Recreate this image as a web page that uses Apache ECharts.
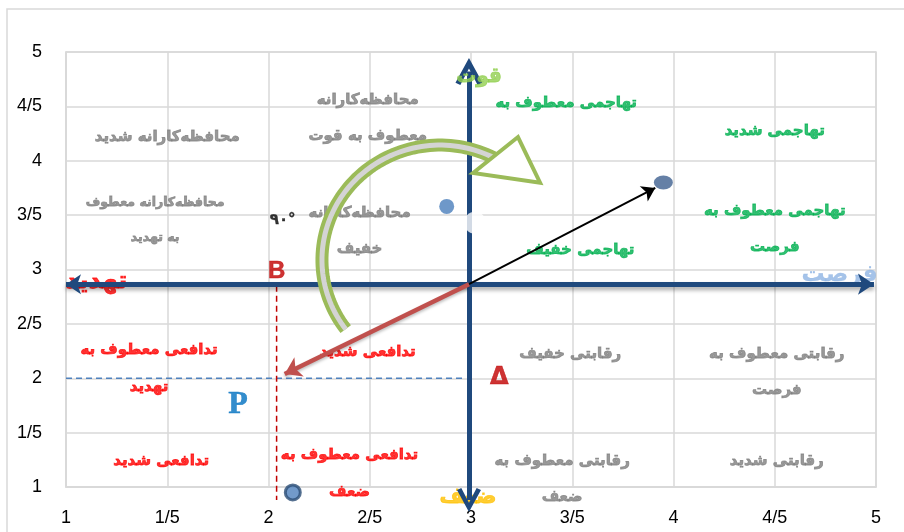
<!DOCTYPE html>
<html>
<head>
<meta charset="utf-8">
<script src="https://cdn.jsdelivr.net/npm/echarts@6/dist/echarts.min.js"></script>
<style>
  html, body { margin: 0; padding: 0; background: #fff; }
  #chart { width: 904px; height: 532px; }
</style>
</head>
<body>
<div id="chart"></div>
<script>
// tick labels (Persian style decimals)
var xTicks = ['1', '1/5', '2', '2/5', '3', '3/5', '4', '4/5', '5'];
var yTicks = ['1', '1/5', '2', '2/5', '3', '3/5', '4', '4/5', '5'];

// quadrant texts [x, y, text]
var grayText = [
    [1.50, 4.22, 'محافظه‌کارانه شدید'],
    [2.49, 4.39, 'محافظه‌کارانه\nمعطوف به قوت'],
    [2.45, 3.35, 'محافظه‌کارانه\nخفیف'],
    [3.49, 2.22, 'رقابتی خفیف'],
    [4.51, 2.06, 'رقابتی معطوف به\nفرصت'],
    [4.51, 1.24, 'رقابتی شدید'],
    [3.45, 1.07, 'رقابتی معطوف به\nضعف']
];
var graySmallText = [
    [1.44, 3.455, 'محافظه‌کارانه معطوف\nبه تهدید']
];
var greenText = [
    [3.47, 4.53, 'تهاجمی معطوف به'],
    [4.50, 4.27, 'تهاجمی شدید'],
    [4.50, 3.37, 'تهاجمی معطوف به\nفرصت'],
    [3.54, 3.18, 'تهاجمی خفیف']
];
var redText = [
    [1.41, 2.09, 'تدافعی معطوف به\nتهدید'],
    [1.47, 1.24, 'تدافعی شدید'],
    [2.49, 2.24, 'تدافعی شدید'],
    [2.40, 1.12, 'تدافعی معطوف به\nضعف']
];

// axis words
var strengthWord = [3.04, 4.77, 'قوت'];
var weaknessWord = [2.985, 0.90, 'ضعف'];
var threatWord = [1.15, 2.89, 'تهدید'];
var opportunityWord = [4.82, 2.95, 'فرصت'];

// letters / marks
var letterB = [2.04, 2.98, 'B'];
var letterDelta = [3.14, 2.00, 'Δ'];
var letterP = [1.85, 1.76, 'P'];
var angleText = [2.07, 3.455, '۹۰°'];

// main axes (arrows)
var hAxisLine = [[1.00, 2.865], [4.99, 2.865]];
var vAxisLine = [[2.99, 4.82], [2.99, 0.88]];

// vectors
var blackArrow = [[2.99, 2.865], [3.91, 3.75]];
var redArrow = [[2.99, 2.865], [2.08, 2.04]];
var blueDash = [[1.00, 2.00], [2.96, 2.00]];
var redDash = [[2.04, 2.85], [2.04, 0.88]];

// points
var bigDot = [3.95, 3.80];
var blueDot = [2.88, 3.58];
var ringDot = [2.12, 0.95];
var whiteDot = [3.02, 3.43];

// green curved arrow: elliptic arc (centre, radii in axis units, angles in degrees) + head
var arcCenter = [2.847, 3.087];
var arcRadius = [0.583, 1.057];
var arcAngles = [143, 297];
var arcHead = [[3.01, 3.887], [3.232, 4.218], [3.341, 3.798]];

var persianFont = 'DejaVu Sans';

function textSeries(list, color, size, extra, z) {
    var s = {
        type: 'scatter',
        symbolSize: 0,
        z: z || 2,
        clip: false,
        silent: true,
        data: list,
        label: {
            show: true,
            position: 'inside',
            formatter: function (p) { return p.data[2]; },
            color: color,
            fontFamily: persianFont,
            fontWeight: 'bold',
            fontSize: size,
            lineHeight: Math.round(size * 2.4),
            align: 'center',
            verticalAlign: 'middle',
            textBorderColor: color,
            textBorderWidth: 0.8
        }
    };
    if (extra) {
        for (var k in extra) s.label[k] = extra[k];
    }
    return s;
}

function arcPixels(api) {
    var c = api.coord(arcCenter);
    var e = api.coord([arcCenter[0] + arcRadius[0], arcCenter[1] + arcRadius[1]]);
    var rx = Math.abs(e[0] - c[0]);
    var ry = Math.abs(e[1] - c[1]);
    var pts = [];
    for (var a = arcAngles[0]; a <= arcAngles[1]; a += 2) {
        var t = a * Math.PI / 180;
        pts.push([c[0] + rx * Math.cos(t), c[1] + ry * Math.sin(t)]);
    }
    return pts;
}

var chevron = 'path://M0,10 L5,0 L10,10 L8.2,10.9 L5,4.2 L1.8,10.9 Z';

var chart = echarts.init(document.getElementById('chart'));
var option = {
    animation: false,
    backgroundColor: '#fff',
    graphic: [{
        type: 'rect',
        shape: { x: 7, y: 9, width: 1000, height: 1000 },
        style: { fill: 'none', stroke: '#d9d9d9', lineWidth: 1.5 },
        silent: true,
        z: -1
    }],
    grid: {
        left: 66,
        right: 28,
        top: 52,
        bottom: 45,
        show: true,
        borderColor: '#d9d9d9',
        borderWidth: 1.5
    },
    xAxis: {
        type: 'value',
        min: 1,
        max: 5,
        interval: 0.5,
        axisLine: { show: true, lineStyle: { color: '#d9d9d9', width: 1.5 } },
        axisTick: { show: false },
        splitLine: { show: true, lineStyle: { color: '#d9d9d9', width: 1.5 } },
        axisLabel: {
            margin: 22,
            color: '#000',
            fontSize: 18,
            fontFamily: 'Liberation Sans',
            formatter: function (v) { return xTicks[Math.round((v - 1) / 0.5)]; }
        }
    },
    yAxis: {
        type: 'value',
        min: 1,
        max: 5,
        interval: 0.5,
        axisLine: { show: true, lineStyle: { color: '#d9d9d9', width: 1.5 } },
        axisTick: { show: false },
        splitLine: { show: true, lineStyle: { color: '#d9d9d9', width: 1.5 } },
        axisLabel: {
            margin: 24,
            color: '#000',
            fontSize: 18,
            fontFamily: 'Liberation Sans',
            formatter: function (v) { return yTicks[Math.round((v - 1) / 0.5)]; }
        }
    },
    series: [
        textSeries(grayText, '#808080', 15),
        textSeries(graySmallText, '#808080', 12.5, { lineHeight: 35 }),
        textSeries(greenText, '#00b050', 15),
        textSeries(redText, '#ff0000', 15, { lineHeight: 37 }),
        textSeries([strengthWord], '#92d050', 20, null, 9),
        textSeries([weaknessWord], '#ffc000', 21),
        textSeries([threatWord], '#ff0000', 24),
        textSeries([opportunityWord], '#8eb4e3', 23, { textBorderWidth: 0.3 }),
        textSeries([letterB], '#c00000', 24, { fontFamily: 'Liberation Sans', textBorderWidth: 0.5 }),
        textSeries([letterDelta], '#c00000', 24, { textBorderWidth: 0.5 }),
        textSeries([letterP], '#0070c0', 32, { fontFamily: 'Liberation Serif', textBorderWidth: 0.5 }),
        textSeries([angleText], '#000', 15, { textBorderWidth: 0.3 }),
        // dashed helper lines
        {
            type: 'line',
            data: blueDash,
            symbol: 'none',
            z: 3,
            clip: false,
            silent: true,
            lineStyle: { color: '#4f81bd', width: 1.5, type: [6, 4] }
        },
        {
            type: 'line',
            data: redDash,
            symbol: 'none',
            z: 3,
            clip: false,
            silent: true,
            lineStyle: { color: '#c00000', width: 1.5, type: [6, 4] }
        },
        // main horizontal axis
        {
            type: 'lines',
            coordinateSystem: 'cartesian2d',
            z: 5,
            clip: false,
            silent: true,
            symbol: ['arrow', 'arrow'],
            symbolSize: [15, 16],
            lineStyle: {
                color: '#1f497d',
                width: 5,
                opacity: 1,
                shadowColor: 'rgba(0,0,0,0.35)',
                shadowBlur: 4,
                shadowOffsetY: 3
            },
            data: [{ coords: hAxisLine }]
        },
        // main vertical axis
        {
            type: 'lines',
            coordinateSystem: 'cartesian2d',
            z: 5,
            clip: false,
            silent: true,
            symbol: [chevron, chevron],
            symbolSize: [27, 24],
            lineStyle: { color: '#1f497d', width: 5, opacity: 1 },
            data: [{ coords: vAxisLine }]
        },
        // vectors
        {
            type: 'lines',
            coordinateSystem: 'cartesian2d',
            z: 6,
            clip: false,
            silent: true,
            symbol: ['none', 'arrow'],
            symbolSize: 13,
            lineStyle: { color: '#000', width: 2, opacity: 1 },
            data: [{ coords: blackArrow }]
        },
        {
            type: 'lines',
            coordinateSystem: 'cartesian2d',
            z: 6,
            clip: false,
            silent: true,
            symbol: ['none', 'arrow'],
            symbolSize: 16,
            lineStyle: {
                color: '#c0504d',
                width: 4.5,
                opacity: 1,
                shadowColor: 'rgba(0,0,0,0.25)',
                shadowBlur: 3,
                shadowOffsetY: 2
            },
            data: [{ coords: redArrow }]
        },
        // green curved arrow
        {
            type: 'custom',
            z: 7,
            clip: false,
            silent: true,
            data: [[0]],
            renderItem: function (params, api) {
                var pts = arcPixels(api);
                var head = arcHead.map(function (p) { return api.coord(p); });
                return {
                    type: 'group',
                    children: [{
                        type: 'polyline',
                        shape: { points: pts },
                        style: { fill: 'none', stroke: '#9bbb59', lineWidth: 13, lineCap: 'butt' }
                    }, {
                        type: 'polyline',
                        shape: { points: pts },
                        style: { fill: 'none', stroke: '#d4d4d4', lineWidth: 5, lineCap: 'butt' }
                    }, {
                        type: 'polygon',
                        shape: { points: head },
                        style: { fill: '#fff', stroke: '#9bbb59', lineWidth: 4, lineJoin: 'miter' }
                    }]
                };
            }
        },
        // points
        {
            type: 'scatter',
            z: 8,
            clip: false,
            silent: true,
            data: [bigDot],
            symbolSize: [19, 14],
            itemStyle: { color: '#3e6090' }
        },
        {
            type: 'scatter',
            z: 8,
            clip: false,
            silent: true,
            data: [blueDot],
            symbolSize: 15,
            itemStyle: { color: '#4a7ebb' }
        },
        {
            type: 'scatter',
            z: 8,
            clip: false,
            silent: true,
            data: [ringDot],
            symbolSize: 15,
            itemStyle: { color: '#4f81bd', borderColor: '#2c4d75', borderWidth: 3 }
        },
        {
            type: 'scatter',
            z: 8,
            clip: false,
            silent: true,
            data: [whiteDot],
            symbolSize: 22,
            itemStyle: { color: '#fff' }
        }
    ]
};
chart.setOption(option);
</script>
</body>
</html>
